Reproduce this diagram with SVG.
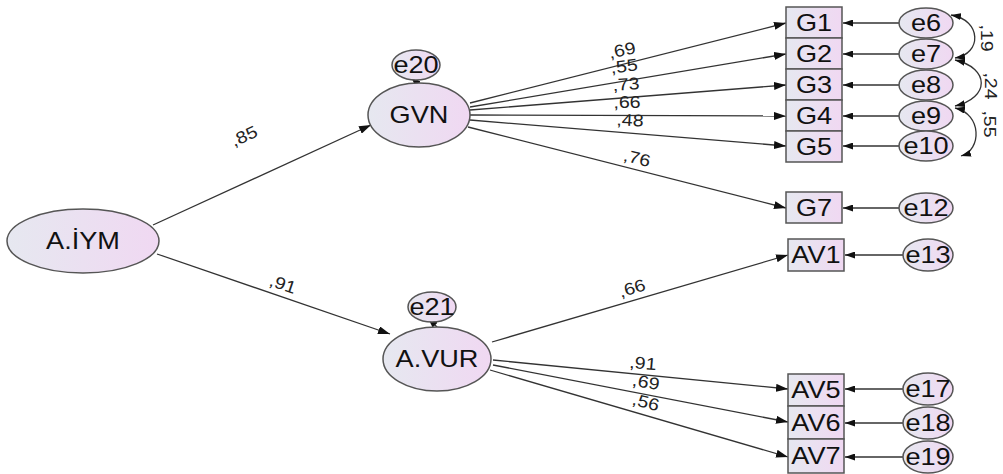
<svg xmlns="http://www.w3.org/2000/svg" width="1003" height="474" viewBox="0 0 1003 474">
<defs>
<linearGradient id="g" x1="0" y1="0" x2="1" y2="0">
<stop offset="0" stop-color="#e6e8f0"/>
<stop offset="1" stop-color="#f0d8f2"/>
</linearGradient>
<marker id="ah" viewBox="0 0 12 8" refX="12" refY="4" markerWidth="12" markerHeight="8" markerUnits="userSpaceOnUse" orient="auto-start-reverse">
<path d="M0,0 L12,4 L0,8 z" fill="#111"/>
</marker>
<marker id="as" viewBox="0 0 10 7" refX="10" refY="3.5" markerWidth="10" markerHeight="7" markerUnits="userSpaceOnUse" orient="auto-start-reverse">
<path d="M0,0 L10,3.5 L0,7 z" fill="#111"/>
</marker>
</defs>
<style>
.n{fill:url(#g);stroke:#555;stroke-width:1.5}
.t{font-family:"Liberation Sans",Arial,sans-serif;font-size:23px;fill:#111;text-anchor:middle}
.l{font-family:"Liberation Sans",Arial,sans-serif;font-size:17px;fill:#222;text-anchor:middle}
.c{stroke:#333;stroke-width:1.3;fill:none;marker-end:url(#ah)}
.e{stroke:#333;stroke-width:1.3;fill:none;marker-end:url(#as)}
.cv{stroke:#333;stroke-width:1.3;fill:none;marker-start:url(#as);marker-end:url(#as)}
</style>
<g id="connectors">
<line class="c" x1="153" y1="225" x2="371" y2="125"/>
<line class="c" x1="157" y1="254" x2="390" y2="334"/>
<line class="c" x1="470" y1="103" x2="786" y2="23"/>
<line class="c" x1="470" y1="107" x2="786" y2="54"/>
<line class="c" x1="470" y1="110" x2="786" y2="85"/>
<line class="c" x1="470" y1="115" x2="786" y2="116"/>
<line class="c" x1="470" y1="120" x2="786" y2="146"/>
<line class="c" x1="468" y1="127" x2="786" y2="208"/>
<line class="c" x1="492" y1="342" x2="788" y2="255"/>
<line class="c" x1="493" y1="360" x2="788" y2="389"/>
<line class="c" x1="493" y1="365" x2="788" y2="422"/>
<line class="c" x1="490" y1="370" x2="788" y2="457"/>
<line class="e" x1="900" y1="23" x2="843" y2="23"/>
<line class="e" x1="900" y1="54" x2="843" y2="54"/>
<line class="e" x1="900" y1="85" x2="843" y2="85"/>
<line class="e" x1="900" y1="116" x2="843" y2="116"/>
<line class="e" x1="900" y1="146" x2="843" y2="146"/>
<line class="e" x1="900" y1="208" x2="843" y2="208"/>
<line class="e" x1="903" y1="255" x2="845" y2="255"/>
<line class="e" x1="903" y1="389" x2="845" y2="389"/>
<line class="e" x1="903" y1="423" x2="845" y2="423"/>
<line class="e" x1="903" y1="457" x2="845" y2="457"/>
<line class="e" x1="419" y1="85" x2="411" y2="77"/>
<line class="e" x1="437" y1="327" x2="428" y2="318"/>
<path class="cv" d="M951,15 C982,20 982,54 955,58"/>
<path class="cv" d="M955,60 C990,68 990,98 955,106"/>
<path class="cv" d="M955,108 C982,114 982,150 961,156"/>
<text class="l" transform="translate(244,136) rotate(-24) scale(1.15,1)" dy="0.35em">,85</text>
<text class="l" transform="translate(283,284) rotate(19) scale(1.15,1)" dy="0.35em">,91</text>
<text class="l" transform="translate(622,50) rotate(-12) scale(1.15,1)" dy="0.35em">,69</text>
<text class="l" transform="translate(624,66) rotate(-7) scale(1.15,1)" dy="0.35em">,55</text>
<text class="l" transform="translate(626,84) rotate(-4) scale(1.15,1)" dy="0.35em">,73</text>
<text class="l" transform="translate(627,102) rotate(-1) scale(1.15,1)" dy="0.35em">,66</text>
<text class="l" transform="translate(630,120) rotate(3) scale(1.15,1)" dy="0.35em">,48</text>
<text class="l" transform="translate(637,158) rotate(14) scale(1.15,1)" dy="0.35em">,76</text>
<text class="l" transform="translate(632,288) rotate(-17) scale(1.15,1)" dy="0.35em">,66</text>
<text class="l" transform="translate(643,363) rotate(5) scale(1.15,1)" dy="0.35em">,91</text>
<text class="l" transform="translate(646,382) rotate(10) scale(1.15,1)" dy="0.35em">,69</text>
<text class="l" transform="translate(646,402) rotate(15) scale(1.15,1)" dy="0.35em">,56</text>
<text class="l" transform="translate(987,38) rotate(90) scale(1.15,1)" dy="0.35em">,19</text>
<text class="l" transform="translate(991,86) rotate(90) scale(1.15,1)" dy="0.35em">,24</text>
<text class="l" transform="translate(990,124) rotate(90) scale(1.15,1)" dy="0.35em">,55</text>
</g>
<g id="AIYM"><ellipse class="n" cx="83" cy="241" rx="76" ry="32"/><text class="t" transform="translate(83,249) scale(1.18,1)">A.İYM</text></g>
<g id="GVN"><ellipse class="n" cx="419" cy="115" rx="51" ry="32"/><text class="t" transform="translate(419,123) scale(1.18,1)">GVN</text></g>
<g id="AVUR"><ellipse class="n" cx="437" cy="359" rx="54" ry="32"/><text class="t" transform="translate(437,367) scale(1.18,1)">A.VUR</text></g>
<g id="e20"><ellipse class="n" cx="416" cy="65" rx="24" ry="15"/><text class="t" transform="translate(416,73) scale(1.18,1)">e20</text></g>
<g id="e21"><ellipse class="n" cx="432" cy="307" rx="24" ry="15"/><text class="t" transform="translate(432,315) scale(1.18,1)">e21</text></g>
<g id="G1"><rect class="n" x="786" y="7" width="56" height="31"/><text class="t" transform="translate(814,31) scale(1.18,1)">G1</text></g>
<g id="G2"><rect class="n" x="786" y="38" width="56" height="31"/><text class="t" transform="translate(814,62) scale(1.18,1)">G2</text></g>
<g id="G3"><rect class="n" x="786" y="69" width="56" height="31"/><text class="t" transform="translate(814,93) scale(1.18,1)">G3</text></g>
<g id="G4"><rect class="n" x="786" y="100" width="56" height="31"/><text class="t" transform="translate(814,124) scale(1.18,1)">G4</text></g>
<g id="G5"><rect class="n" x="786" y="131" width="56" height="31"/><text class="t" transform="translate(814,155) scale(1.18,1)">G5</text></g>
<g id="G7"><rect class="n" x="786" y="192" width="56" height="31"/><text class="t" transform="translate(814,216) scale(1.18,1)">G7</text></g>
<g id="AV1"><rect class="n" x="788" y="239" width="56" height="32"/><text class="t" transform="translate(816,263) scale(1.18,1)">AV1</text></g>
<g id="AV5"><rect class="n" x="788" y="374" width="56" height="32"/><text class="t" transform="translate(816,398) scale(1.18,1)">AV5</text></g>
<g id="AV6"><rect class="n" x="788" y="406" width="56" height="33"/><text class="t" transform="translate(816,431) scale(1.18,1)">AV6</text></g>
<g id="AV7"><rect class="n" x="788" y="439" width="56" height="34"/><text class="t" transform="translate(816,464) scale(1.18,1)">AV7</text></g>
<g id="e6"><ellipse class="n" cx="926" cy="23" rx="27" ry="15"/><text class="t" transform="translate(926,31) scale(1.18,1)">e6</text></g>
<g id="e7"><ellipse class="n" cx="926" cy="54" rx="27" ry="15"/><text class="t" transform="translate(926,62) scale(1.18,1)">e7</text></g>
<g id="e8"><ellipse class="n" cx="926" cy="85" rx="27" ry="15"/><text class="t" transform="translate(926,93) scale(1.18,1)">e8</text></g>
<g id="e9"><ellipse class="n" cx="926" cy="116" rx="27" ry="15"/><text class="t" transform="translate(926,124) scale(1.18,1)">e9</text></g>
<g id="e10"><ellipse class="n" cx="926" cy="146" rx="27" ry="15"/><text class="t" transform="translate(926,154) scale(1.18,1)">e10</text></g>
<g id="e12"><ellipse class="n" cx="926" cy="208" rx="27" ry="15"/><text class="t" transform="translate(926,216) scale(1.18,1)">e12</text></g>
<g id="e13"><ellipse class="n" cx="928" cy="255" rx="25" ry="16"/><text class="t" transform="translate(928,263) scale(1.18,1)">e13</text></g>
<g id="e17"><ellipse class="n" cx="928" cy="389" rx="25" ry="16"/><text class="t" transform="translate(928,397) scale(1.18,1)">e17</text></g>
<g id="e18"><ellipse class="n" cx="928" cy="423" rx="25" ry="16"/><text class="t" transform="translate(928,431) scale(1.18,1)">e18</text></g>
<g id="e19"><ellipse class="n" cx="928" cy="457" rx="25" ry="16"/><text class="t" transform="translate(928,465) scale(1.18,1)">e19</text></g>
</svg>
